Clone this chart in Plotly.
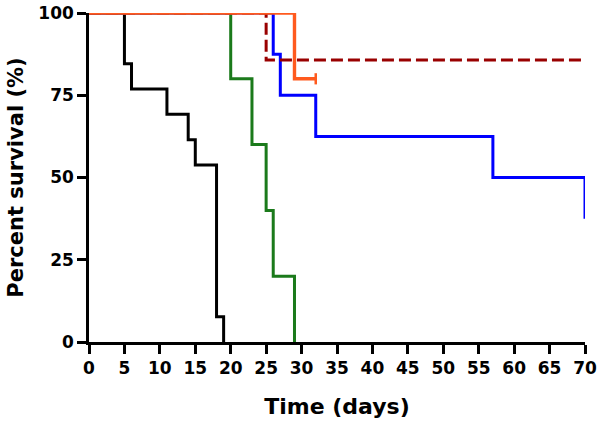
import plotly.graph_objects as go

# Kaplan-Meier survival data (days, percent survival)
black_t = [0, 5, 6, 11, 14, 15, 18, 19]
black_s = [100, 84.6, 76.9, 69.2, 61.5, 53.8, 7.7, 0]

green_t = [0, 20, 23, 25, 26, 29]
green_s = [100, 80, 60, 40, 20, 0]

blue_t = [0, 26, 27, 32, 57, 70]
blue_s = [100, 87.5, 75, 62.5, 50, 37.5]

darkred_t = [0, 25, 70]
darkred_s = [100, 85.7, 85.7]

orange_t = [0, 29, 32]
orange_s = [100, 80, 80]
orange_censor_t = [32]
orange_censor_s = [80]

x_ticks = list(range(0, 71, 5))
y_ticks = [0, 25, 50, 75, 100]

FONT = "DejaVu Sans"

fig = go.Figure()

def km(t, s, color, dash="solid", width=3):
    fig.add_trace(go.Scatter(
        x=t, y=s, mode="lines", line=dict(color=color, width=width, dash=dash, shape="hv"),
        cliponaxis=False, showlegend=False, hoverinfo="skip"))

km(black_t, black_s, "#000000")
km(green_t, green_s, "#1B7A1B")
km(blue_t, blue_s, "#0000FF")
km(darkred_t, darkred_s, "#990000", dash="12px,5px")
km(orange_t, orange_s, "#FF5A1E", width=3.4)
fig.add_trace(go.Scatter(
    x=orange_censor_t, y=orange_censor_s, mode="markers",
    marker=dict(symbol="line-ns", size=8, line=dict(color="#FF5A1E", width=2.5)),
    cliponaxis=False, showlegend=False, hoverinfo="skip"))

axis_common = dict(
    showline=True, linecolor="black", linewidth=2.5, mirror=False,
    ticks="outside", ticklen=9, tickwidth=2.5, tickcolor="black",
    showgrid=False, zeroline=False, automargin=False, ticklabeloverflow="allow",
    tickfont=dict(family=FONT, size=17, color="black", weight="bold"),
)

fig.update_xaxes(range=[0, 70], tickvals=x_ticks,
                 title=dict(text="Time (days)", font=dict(family=FONT, size=22, color="black", weight="bold"), standoff=22),
                 **axis_common)
fig.update_yaxes(range=[0, 100], tickvals=y_ticks,
                 title=dict(text="Percent survival (%)", font=dict(family=FONT, size=21, color="black", weight="bold"), standoff=9),
                 **axis_common)

fig.update_layout(
    width=600, height=423,
    margin=dict(l=89, r=15, t=13, b=81, autoexpand=False),
    paper_bgcolor="white", plot_bgcolor="white",
)

# remove the browser's default 8px body margin so the figure fills the window
fig.write_html("out.html", config={"displayModeBar": False},
               post_script="document.body.style.margin='0px';")
